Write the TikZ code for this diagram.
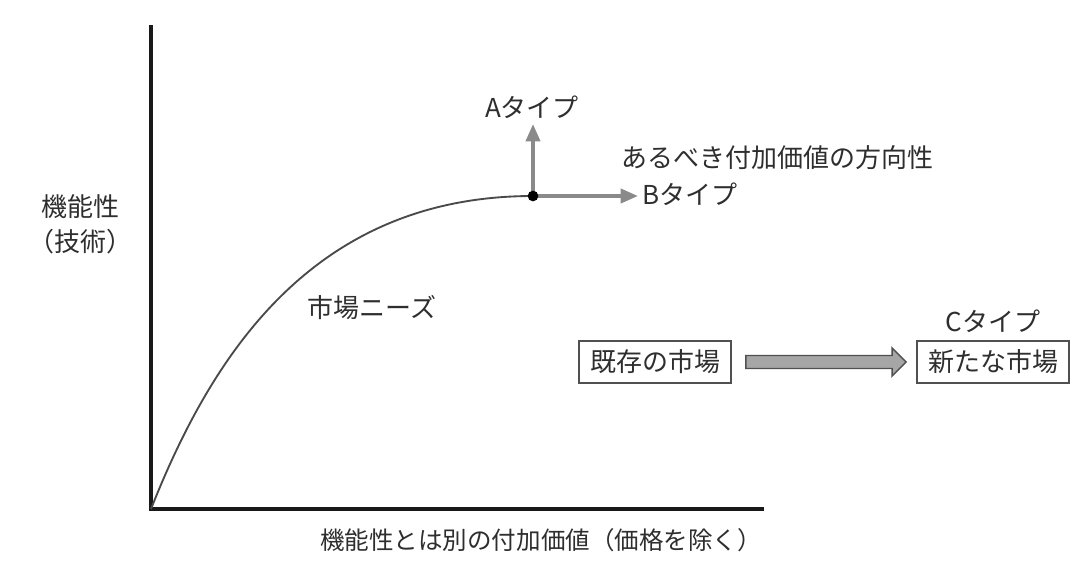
\documentclass[tikz,border=0pt]{standalone}
\usepackage{fontspec}
\setmainfont{Noto Sans CJK JP}
\usetikzlibrary{arrows.meta,calc}
\definecolor{txt}{HTML}{2E2E2E}
\definecolor{curvec}{HTML}{4A4A4A}
\definecolor{arrg}{HTML}{8A8A8A}
\definecolor{fatfill}{HTML}{A6A6A6}
\definecolor{boxc}{HTML}{505050}
\tikzset{
  lbl/.style={text=txt, font=\fontsize{19.5}{22}\selectfont, inner sep=0pt},
  axis/.style={line width=2.8pt, black!90},
  needs/.style={line width=1.4pt, curvec},
  dirarrow/.style={line width=2.8pt, arrg, -{Triangle[length=13pt,width=10.5pt]}},
  mktbox/.style={lbl, draw=boxc, line width=1.3pt, minimum width=114pt, minimum height=31.5pt, inner sep=2pt},
  fatarrow/.style={fill=fatfill, draw=boxc, line width=1.1pt, line join=miter},
}
\begin{document}
\begin{tikzpicture}[x=0.75pt,y=-0.75pt]
\useasboundingbox (0,0) rectangle (1085,579);
% axes
\coordinate (origin) at (151,509);
\coordinate (ytop) at (151,25);
\coordinate (xend) at (764,509);
\draw[axis] (ytop) -- (origin) -- (xend);
% curve
\coordinate (pt) at (533,196);
\draw[needs] (origin) .. controls (210,360) and (310,196) .. (pt);
% direction arrows
\coordinate (atip) at (533,124);
\coordinate (btip) at (638,196);
\draw[dirarrow] (pt) -- (atip);
\draw[dirarrow] (pt) -- (btip);
\fill[black] (pt) circle (4pt);
% labels
\node[lbl] (alab) at (532,107) {Aタイプ};
\node[lbl] (blab) at (690,194) {Bタイプ};
\node[lbl] (dir) at (777,158) {あるべき付加価値の方向性};
\node[lbl, align=center] (ylab) at (80,224) {機能性\\[4pt]（技術）};
\node[lbl] (needslab) at (372,308) {市場ニーズ};
\node[lbl, font=\fontsize{18.4}{22}\selectfont] (xlab) at (541,540) {機能性とは別の付加価値（価格を除く）};
% markets
\node[mktbox] (old) at (655,362) {既存の市場};
\node[mktbox] (new) at (993,362) {新たな市場};
\node[lbl] (clab) at (993,321) {Cタイプ};
\path (old.east) ++(14,0) coordinate (fa1);
\path (new.west) ++(-10,0) coordinate (fa2);
\draw[fatarrow] ($(fa1)+(0,-6.5)$) -- ($(fa2)+(-14,-6.5)$) -- ($(fa2)+(-14,-14)$) -- (fa2)
  -- ($(fa2)+(-14,14)$) -- ($(fa2)+(-14,6.5)$) -- ($(fa1)+(0,6.5)$) -- cycle;
\end{tikzpicture}
\end{document}
